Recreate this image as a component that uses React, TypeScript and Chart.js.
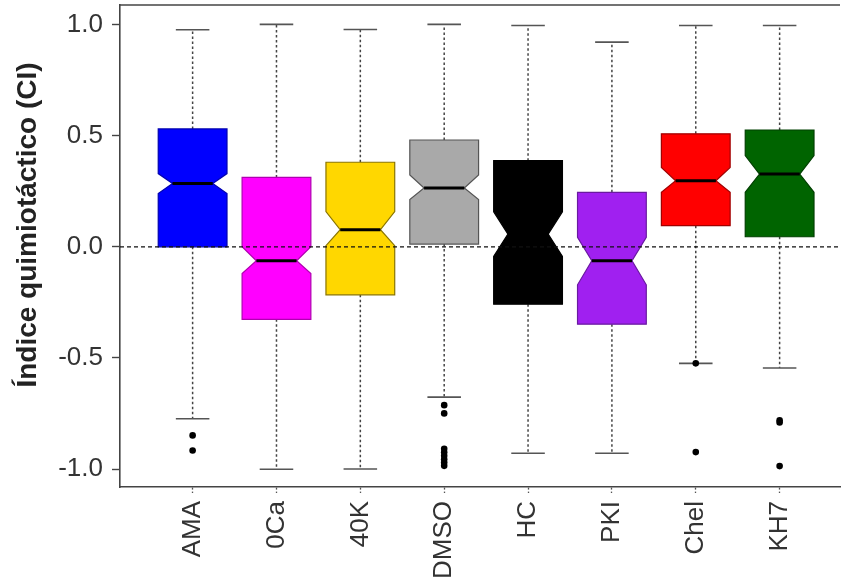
import React, { useEffect, useRef } from "react";
import { Chart, registerables } from "chart.js";

Chart.register(...registerables);

const categories = ["AMA", "0Ca", "40K", "DMSO", "HC", "PKI", "Chel", "KH7"];
const whiskerHigh = [0.976, 1.0, 0.977, 1.0, 0.995, 0.92, 0.995, 0.995];
const q3 = [0.53, 0.312, 0.38, 0.48, 0.387, 0.245, 0.508, 0.525];
const notchHigh = [0.329, 0.0, 0.158, 0.323, 0.157, 0.042, 0.357, 0.41];
const medians = [0.284, -0.063, 0.077, 0.264, 0.057, -0.063, 0.297, 0.327];
const notchLow = [0.239, -0.12, 0.005, 0.212, -0.043, -0.171, 0.245, 0.245];
const q1 = [0.0, -0.326, -0.216, 0.012, -0.258, -0.348, 0.095, 0.045];
const whiskerLow = [-0.773, -1.0, -0.999, -0.676, -0.928, -0.928, -0.524, -0.545];
const outliers: number[][] = [
  [-0.848, -0.916],
  [],
  [],
  [-0.712, -0.749, -0.908, -0.924, -0.94, -0.955, -0.97, -0.985],
  [],
  [],
  [-0.524, -0.923],
  [-0.78, -0.79, -0.986],
];
const fills = ["#0000FF", "#FF00FF", "#FFD700", "#A9A9A9", "#000000", "#A020F0", "#FF0000", "#006400"];
const strokes = ["#0000B0", "#B000B0", "#8A7500", "#555555", "#000000", "#6A1AA0", "#A00000", "#004000"];
const yTicks = [-1, -0.5, 0, 0.5, 1];
const yTitle = "Índice quimiotáctico (CI)";

const FONT = "'Liberation Sans', Arial, sans-serif";

export default function App() {
  const ref = useRef<HTMLCanvasElement | null>(null);

  useEffect(() => {
    const canvas = ref.current;
    if (!canvas) return;

    const outlierPoints: { x: number; y: number }[] = [];
    outliers.forEach((arr, i) => arr.forEach((v) => outlierPoints.push({ x: i + 1, y: v })));

    const boxPlugin = {
      id: "boxes",
      beforeDatasetsDraw(chart: any) {
        const { ctx } = chart;
        const xs = chart.scales.x;
        const ys = chart.scales.y;
        const hw = 0.41;
        const nw = 0.24;
        const cw = 0.2;
        ctx.save();
        categories.forEach((_, i) => {
          const c = i + 1;
          const X = (v: number) => xs.getPixelForValue(v);
          const Y = (v: number) => ys.getPixelForValue(v);
          ctx.strokeStyle = "#444";
          ctx.lineWidth = 1.5;
          ctx.setLineDash([2.5, 2.5]);
          ctx.beginPath();
          ctx.moveTo(X(c), Y(q3[i]));
          ctx.lineTo(X(c), Y(whiskerHigh[i]));
          ctx.moveTo(X(c), Y(q1[i]));
          ctx.lineTo(X(c), Y(whiskerLow[i]));
          ctx.stroke();
          ctx.setLineDash([]);
          ctx.strokeStyle = "#555";
          ctx.lineWidth = 1.6;
          ctx.beginPath();
          ctx.moveTo(X(c - cw), Y(whiskerHigh[i]));
          ctx.lineTo(X(c + cw), Y(whiskerHigh[i]));
          ctx.moveTo(X(c - cw), Y(whiskerLow[i]));
          ctx.lineTo(X(c + cw), Y(whiskerLow[i]));
          ctx.stroke();
          ctx.beginPath();
          ctx.moveTo(X(c - hw), Y(q1[i]));
          ctx.lineTo(X(c - hw), Y(notchLow[i]));
          ctx.lineTo(X(c - nw), Y(medians[i]));
          ctx.lineTo(X(c - hw), Y(notchHigh[i]));
          ctx.lineTo(X(c - hw), Y(q3[i]));
          ctx.lineTo(X(c + hw), Y(q3[i]));
          ctx.lineTo(X(c + hw), Y(notchHigh[i]));
          ctx.lineTo(X(c + nw), Y(medians[i]));
          ctx.lineTo(X(c + hw), Y(notchLow[i]));
          ctx.lineTo(X(c + hw), Y(q1[i]));
          ctx.closePath();
          ctx.fillStyle = fills[i];
          ctx.fill();
          ctx.strokeStyle = strokes[i];
          ctx.lineWidth = 1.2;
          ctx.stroke();
          ctx.strokeStyle = "#000";
          ctx.lineWidth = 3;
          ctx.beginPath();
          ctx.moveTo(X(c - nw), Y(medians[i]));
          ctx.lineTo(X(c + nw), Y(medians[i]));
          ctx.stroke();
        });
        ctx.restore();
      },
      afterDatasetsDraw(chart: any) {
        const { ctx, chartArea } = chart;
        const ys = chart.scales.y;
        ctx.save();
        ctx.strokeStyle = "#111";
        ctx.lineWidth = 1.3;
        ctx.setLineDash([4, 3]);
        ctx.beginPath();
        const y0 = ys.getPixelForValue(0);
        ctx.moveTo(chartArea.left, y0);
        ctx.lineTo(chartArea.right, y0);
        ctx.stroke();
        ctx.setLineDash([]);
        ctx.strokeStyle = "#444";
        ctx.lineWidth = 1.6;
        ctx.beginPath();
        ctx.moveTo(chartArea.left, chartArea.top);
        ctx.lineTo(chartArea.right, chartArea.top);
        ctx.stroke();
        ctx.translate(28, 225);
        ctx.rotate(-Math.PI / 2);
        ctx.fillStyle = "#222";
        ctx.font = `bold 28px ${FONT}`;
        ctx.textAlign = "center";
        ctx.textBaseline = "middle";
        ctx.fillText(yTitle, 0, 0);
        ctx.restore();
      },
    };

    const chart = new Chart(canvas, {
      type: "scatter",
      data: {
        datasets: [
          {
            data: outlierPoints,
            backgroundColor: "#000",
            borderColor: "#000",
            borderWidth: 0,
            pointRadius: 3.3,
          },
        ],
      },
      options: {
        responsive: false,
        animation: false,
        layout: { padding: { top: 5, left: 0, right: -4, bottom: 0 } },
        plugins: { legend: { display: false }, tooltip: { enabled: false } },
        scales: {
          x: {
            type: "linear",
            min: 0.134,
            max: 8.72,
            bounds: "data",
            afterFit: (s: any) => {
              s.height = 95;
              s.paddingLeft = 0;
              s.paddingRight = 0;
            },
            afterBuildTicks: (s: any) => {
              s.ticks = categories.map((_, i) => ({ value: i + 1 }));
            },
            grid: {
              drawOnChartArea: false,
              tickLength: 6,
              tickColor: "#555",
              tickBorderDash: [2, 2],
              tickWidth: 1.3,
            },
            border: { display: true, color: "#444", width: 1.6 },
            ticks: {
              autoSkip: false,
              minRotation: 90,
              maxRotation: 90,
              padding: 8,
              color: "#333",
              font: { family: FONT, size: 26 },
              callback: (v: any) => categories[Number(v) - 1] ?? "",
            },
          },
          y: {
            type: "linear",
            min: -1.08,
            max: 1.087,
            bounds: "data",
            afterFit: (s: any) => {
              s.width = 120;
              s.paddingTop = 0;
              s.paddingBottom = 0;
            },
            afterBuildTicks: (s: any) => {
              s.ticks = yTicks.map((v) => ({ value: v }));
            },
            grid: {
              drawOnChartArea: false,
              tickLength: 8,
              tickColor: "#444",
              tickWidth: 1.4,
            },
            border: { display: true, color: "#444", width: 1.6 },
            ticks: {
              padding: 9,
              color: "#333",
              font: { family: FONT, size: 26 },
              callback: (v: any) => Number(v).toFixed(1),
            },
          },
        },
      },
      plugins: [boxPlugin],
    } as any);

    return () => chart.destroy();
  }, []);

  return (
    <div style={{ position: "absolute", left: 0, top: 0, width: 844, height: 582, background: "#fff" }}>
      <canvas ref={ref} width={844} height={582} />
    </div>
  );
}
